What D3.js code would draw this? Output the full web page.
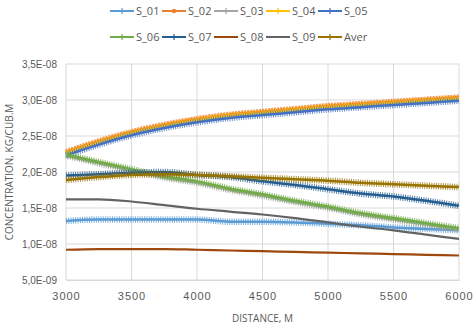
<!DOCTYPE html>
<html>
<head>
<meta charset="utf-8">
<script src="https://cdn.jsdelivr.net/npm/d3@7"></script>
<style>
  body { margin: 0; background: #fff; }
  svg { display: block; font-family: "Open Sans", "DejaVu Sans", sans-serif; }
</style>
</head>
<body>
<div id="chart"></div>
<script>
// distance along the axis, m
var distance = [3000, 3250, 3500, 3750, 4000, 4250, 4500, 4750, 5000, 5250, 5500, 5750, 6000];

// concentrations, in units of 1E-08 kg/cub.m
var s01 = [1.32, 1.34, 1.34, 1.34, 1.34, 1.31, 1.31, 1.30, 1.28, 1.26, 1.23, 1.21, 1.19];
var s02 = [2.28, 2.43, 2.56, 2.66, 2.74, 2.80, 2.84, 2.88, 2.92, 2.95, 2.98, 3.01, 3.04];
var s03 = [2.23, 2.12, 2.02, 1.92, 1.85, 1.75, 1.67, 1.58, 1.50, 1.41, 1.34, 1.27, 1.20];
var s04 = [2.26, 2.41, 2.54, 2.64, 2.72, 2.78, 2.82, 2.86, 2.90, 2.93, 2.96, 2.99, 3.02];
var s05 = [2.23, 2.38, 2.51, 2.61, 2.69, 2.75, 2.79, 2.83, 2.87, 2.90, 2.93, 2.96, 2.99];
var s06 = [2.24, 2.14, 2.04, 1.94, 1.87, 1.77, 1.69, 1.60, 1.52, 1.43, 1.36, 1.29, 1.22];
var s07 = [1.95, 1.97, 1.99, 2.00, 1.96, 1.93, 1.87, 1.82, 1.76, 1.70, 1.66, 1.60, 1.53];
var s08 = [0.92, 0.93, 0.93, 0.93, 0.92, 0.91, 0.90, 0.89, 0.88, 0.87, 0.86, 0.85, 0.84];
var s09 = [1.62, 1.62, 1.59, 1.54, 1.49, 1.45, 1.41, 1.36, 1.30, 1.24, 1.19, 1.13, 1.07];
var aver = [1.89, 1.93, 1.96, 1.97, 1.96, 1.94, 1.92, 1.90, 1.88, 1.85, 1.83, 1.81, 1.79];

var xTicks = [3000, 3500, 4000, 4500, 5000, 5500, 6000];
var yTicks = [0.5, 1.0, 1.5, 2.0, 2.5, 3.0, 3.5];

var series = [
  {name: "S_01", values: s01, color: "#5B9BD5", marker: "plus"},
  {name: "S_02", values: s02, color: "#ED7D31", marker: "dot"},
  {name: "S_03", values: s03, color: "#A5A5A5", marker: "plus"},
  {name: "S_04", values: s04, color: "#FFC000", marker: "plus"},
  {name: "S_05", values: s05, color: "#4472C4", marker: "plus"},
  {name: "S_06", values: s06, color: "#70AD47", marker: "plus"},
  {name: "S_07", values: s07, color: "#255E91", marker: "plus"},
  {name: "S_08", values: s08, color: "#9E480E", marker: "none"},
  {name: "S_09", values: s09, color: "#636363", marker: "none"},
  {name: "Aver", values: aver, color: "#997300", marker: "plus"}
];

var width = 473, height = 330;
var plotLeft = 66, plotRight = 459, plotTop = 64, plotBottom = 280;

var svg = d3.select("#chart").append("svg")
    .attr("width", width)
    .attr("height", height);

var x = d3.scaleLinear().domain([3000, 6000]).range([plotLeft, plotRight]);
var y = d3.scaleLinear().domain([0.5, 3.5]).range([plotBottom, plotTop]);

function sci(v) {
  // 3.5 -> "3,5E-08"
  var s = (v * 1e-8).toExponential(1).split("e");
  var e = parseInt(s[1], 10);
  var ex = (e < 0 ? "-" : "+") + d3.format("02d")(Math.abs(e));
  return s[0].replace(".", ",") + "E" + ex;
}

// grid
svg.append("g")
    .selectAll("line")
    .data(yTicks)
  .enter().append("line")
    .attr("x1", plotLeft).attr("x2", plotRight)
    .attr("y1", function(d) { return y(d); })
    .attr("y2", function(d) { return y(d); })
    .attr("stroke", "#d9d9d9")
    .attr("stroke-width", 1);

svg.append("g")
    .selectAll("line")
    .data(xTicks)
  .enter().append("line")
    .attr("x1", function(d) { return x(d); })
    .attr("x2", function(d) { return x(d); })
    .attr("y1", plotTop).attr("y2", plotBottom)
    .attr("stroke", "#d9d9d9")
    .attr("stroke-width", 1);

// axes
var xAxis = svg.append("g")
    .attr("transform", "translate(0," + plotBottom + ")")
    .call(d3.axisBottom(x).tickValues(xTicks).tickSize(0).tickPadding(12).tickFormat(d3.format("d")));
xAxis.select(".domain").attr("stroke", "#d9d9d9");
xAxis.selectAll("text")
    .attr("fill", "#595959")
    .attr("font-size", "11px")
    .attr("letter-spacing", "1px");

var yAxis = svg.append("g")
    .attr("transform", "translate(" + plotLeft + ",0)")
    .call(d3.axisLeft(y).tickValues(yTicks).tickSize(0).tickPadding(9).tickFormat(sci));
yAxis.select(".domain").remove();
yAxis.selectAll("text")
    .attr("fill", "#595959")
    .attr("font-size", "10px");

svg.append("text")
    .attr("x", (plotLeft + plotRight) / 2)
    .attr("y", 322)
    .attr("text-anchor", "middle")
    .attr("fill", "#595959")
    .attr("font-size", "10px")
    .text("DISTANCE, M");

svg.append("text")
    .attr("transform", "translate(13," + ((plotTop + plotBottom) / 2) + ") rotate(-90)")
    .attr("text-anchor", "middle")
    .attr("fill", "#595959")
    .attr("font-size", "10px")
    .text("CONCENTRATION, KG/CUB.M");

// lines
var line = d3.line()
    .x(function(d, i) { return x(distance[i]); })
    .y(function(d) { return y(d); })
    .curve(d3.curveMonotoneX);

var lines = svg.append("g");

series.forEach(function(s) {
  var g = lines.append("g");
  g.append("path")
      .attr("d", line(s.values))
      .attr("fill", "none")
      .attr("stroke", s.color)
      .attr("stroke-width", s.marker == "none" ? 2.2 : 2.5);
  if (s.marker != "none") {
    // dense markers make the line look like a fuzzy band
    g.append("path")
        .attr("d", line(s.values))
        .attr("fill", "none")
        .attr("stroke", s.color)
        .attr("stroke-width", s.marker == "dot" ? 5.5 : 6.5)
        .attr("stroke-dasharray", s.marker == "dot" ? "2 1" : "1 1.3")
        .attr("opacity", 0.8);
  }
});

// legend
var legendX = [110, 162, 214, 266, 318];
var legendY = [11, 37];

var legend = svg.append("g")
    .selectAll("g")
    .data(series)
  .enter().append("g")
    .attr("transform", function(d, i) {
      return "translate(" + legendX[i % 5] + "," + legendY[Math.floor(i / 5)] + ")";
    });

legend.append("line")
    .attr("x1", 0).attr("x2", 24)
    .attr("y1", 0).attr("y2", 0)
    .attr("stroke", function(d) { return d.color; })
    .attr("stroke-width", 2);

legend.filter(function(d) { return d.marker == "plus"; })
    .append("path")
    .attr("d", "M12,-3V3M9,0H15")
    .attr("stroke", function(d) { return d.color; })
    .attr("stroke-width", 1.2);

legend.filter(function(d) { return d.marker == "dot"; })
    .append("circle")
    .attr("cx", 12).attr("cy", 0).attr("r", 2.2)
    .attr("fill", function(d) { return d.color; });

legend.append("text")
    .attr("x", 26)
    .attr("y", 0)
    .attr("dy", "0.35em")
    .attr("fill", "#595959")
    .attr("font-size", "11px")
    .text(function(d) { return d.name; });
</script>
</body>
</html>
